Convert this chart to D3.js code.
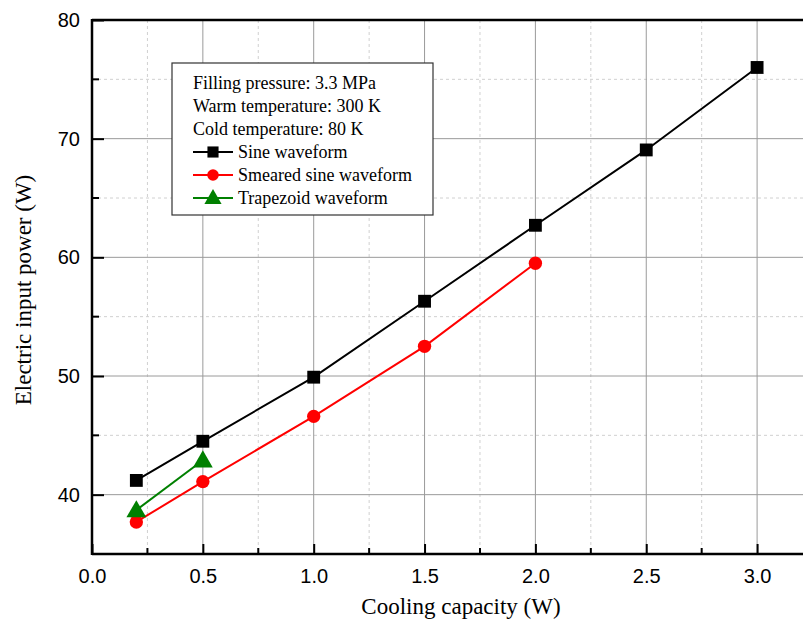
<!DOCTYPE html>
<html><head><meta charset="utf-8">
<script src="https://cdn.jsdelivr.net/npm/d3@7"></script>
<style>body{margin:0;background:#fff}svg{display:block}</style>
</head><body>
<svg id="c" width="803" height="623"></svg>
<script>
const xValues = [0.2, 0.5, 1.0, 1.5, 2.0, 2.5, 3.0];
const sineValues = [41.2, 44.5, 49.9, 56.3, 62.7, 69.05, 76.0];
const smearedX = [0.2, 0.5, 1.0, 1.5, 2.0];
const smearedValues = [37.7, 41.1, 46.6, 52.5, 59.5];
const trapX = [0.2, 0.5];
const trapValues = [38.7, 42.9];
const xTicks = [0, 0.5, 1.0, 1.5, 2.0, 2.5, 3.0];
const yTicks = [40, 50, 60, 70, 80];
const legendInfo = ["Filling pressure: 3.3 MPa", "Warm temperature: 300 K", "Cold temperature: 80 K"];
const seriesNames = ["Sine waveform", "Smeared sine waveform", "Trapezoid waveform"];

const svg = d3.select("#c");
const L = 92, T = 20, B = 554;
const x = d3.scaleLinear().domain([0, 3.25]).range([L, L + 3.25 * 221.7]);
const y = d3.scaleLinear().domain([35, 80]).range([B, T]);
const R = 803;
const serif = "Liberation Serif, Times New Roman, serif";

// grid
const g = svg.append("g");
const minorX = d3.range(0.25, 3.25, 0.5);
const minorY = d3.range(45, 80, 10);
g.selectAll(".mx").data(minorX).enter().append("line")
  .attr("x1", d => x(d)).attr("x2", d => x(d)).attr("y1", T).attr("y2", B)
  .attr("stroke", "#d0d0d0").attr("stroke-dasharray", "3,3").attr("stroke-width", 1);
g.selectAll(".my").data(minorY).enter().append("line")
  .attr("x1", L).attr("x2", R).attr("y1", d => y(d)).attr("y2", d => y(d))
  .attr("stroke", "#d0d0d0").attr("stroke-dasharray", "3,3").attr("stroke-width", 1);
g.selectAll(".Mx").data(xTicks.filter(d => d > 0)).enter().append("line")
  .attr("x1", d => x(d)).attr("x2", d => x(d)).attr("y1", T).attr("y2", B)
  .attr("stroke", "#9a9a9a").attr("stroke-width", 1);
g.selectAll(".My").data(yTicks.filter(d => d < 80)).enter().append("line")
  .attr("x1", L).attr("x2", R).attr("y1", d => y(d)).attr("y2", d => y(d))
  .attr("stroke", "#9a9a9a").attr("stroke-width", 1);

// axes
const xAxis = d3.axisBottom(x).tickValues(xTicks).tickFormat(d3.format(".1f")).tickSizeInner(-10).tickSizeOuter(0).tickPadding(15);
const yAxis = d3.axisLeft(y).tickValues(yTicks).tickFormat(d3.format("d")).tickSizeInner(-12).tickSizeOuter(0).tickPadding(12);
const xa = svg.append("g").attr("transform", `translate(0,${B})`).call(xAxis);
const ya = svg.append("g").attr("transform", `translate(${L},0)`).call(yAxis);
[xa, ya].forEach(a => {
  a.select(".domain").remove();
  a.selectAll("line").attr("stroke", "#000").attr("stroke-width", 2);
  a.selectAll("text").attr("font-family", "Liberation Sans, Arial, sans-serif").attr("font-size", 20).attr("fill", "#000");
});
// minor ticks
svg.selectAll(".mxt").data(minorX).enter().append("line")
  .attr("x1", d => x(d)).attr("x2", d => x(d)).attr("y1", B).attr("y2", B - 6)
  .attr("stroke", "#000").attr("stroke-width", 2);
svg.selectAll(".myt").data(minorY).enter().append("line")
  .attr("x1", L).attr("x2", L + 7).attr("y1", d => y(d)).attr("y2", d => y(d))
  .attr("stroke", "#000").attr("stroke-width", 2);
// frame lines
svg.append("line").attr("x1", L).attr("x2", R).attr("y1", B).attr("y2", B).attr("stroke", "#000").attr("stroke-width", 2.5);
svg.append("line").attr("x1", L).attr("x2", R).attr("y1", T).attr("y2", T).attr("stroke", "#000").attr("stroke-width", 2.5);
svg.append("line").attr("x1", L).attr("x2", L).attr("y1", T - 1).attr("y2", B + 1).attr("stroke", "#000").attr("stroke-width", 2.5);

// axis titles
svg.append("text").attr("x", 461).attr("y", 614).attr("text-anchor", "middle")
  .attr("font-family", serif).attr("font-size", 23).text("Cooling capacity (W)");
svg.append("text").attr("transform", `translate(31,290) rotate(-90)`).attr("text-anchor", "middle")
  .attr("font-family", serif).attr("font-size", 23).text("Electric input power (W)");

// series
const line = d3.line().x(d => x(d[0])).y(d => y(d[1]));
const sine = xValues.map((v, i) => [v, sineValues[i]]);
const smeared = smearedX.map((v, i) => [v, smearedValues[i]]);
const trap = trapX.map((v, i) => [v, trapValues[i]]);
const colors = ["#000000", "#ff0000", "#008000"];
const shapes = [d3.symbolSquare, d3.symbolCircle, d3.symbolTriangle];
const sizes = [165, 140, 170];
[sine, smeared, trap].forEach((data, k) => {
  svg.append("path").datum(data).attr("d", line).attr("fill", "none").attr("stroke", colors[k]).attr("stroke-width", 2);
});
[sine, smeared, trap].forEach((data, k) => {
  svg.selectAll(".m" + k).data(data).enter().append("path")
    .attr("d", d3.symbol().type(shapes[k]).size(sizes[k]))
    .attr("transform", d => `translate(${x(d[0])},${y(d[1]) + (k === 2 ? 1.5 : 0)})`)
    .attr("fill", colors[k]);
});

// legend
const lg = svg.append("g");
lg.append("rect").attr("x", 172).attr("y", 63).attr("width", 261).attr("height", 152)
  .attr("fill", "#fff").attr("stroke", "#333").attr("stroke-width", 1.2);
const rowY = [83, 106, 129, 152, 175, 198];
legendInfo.forEach((t, i) => {
  lg.append("text").attr("x", 193).attr("y", rowY[i] + 6)
    .attr("font-family", serif).attr("font-size", 18).text(t);
});
seriesNames.forEach((t, i) => {
  const yy = rowY[i + 3];
  lg.append("line").attr("x1", 193).attr("x2", 233).attr("y1", yy).attr("y2", yy).attr("stroke", colors[i]).attr("stroke-width", 2);
  lg.append("path").attr("d", d3.symbol().type(shapes[i]).size(sizes[i] * 0.75))
    .attr("transform", `translate(213,${yy + (i === 2 ? 1 : 0)})`).attr("fill", colors[i]);
  lg.append("text").attr("x", 238).attr("y", yy + 6)
    .attr("font-family", serif).attr("font-size", 18).text(t);
});
</script>
</body></html>
